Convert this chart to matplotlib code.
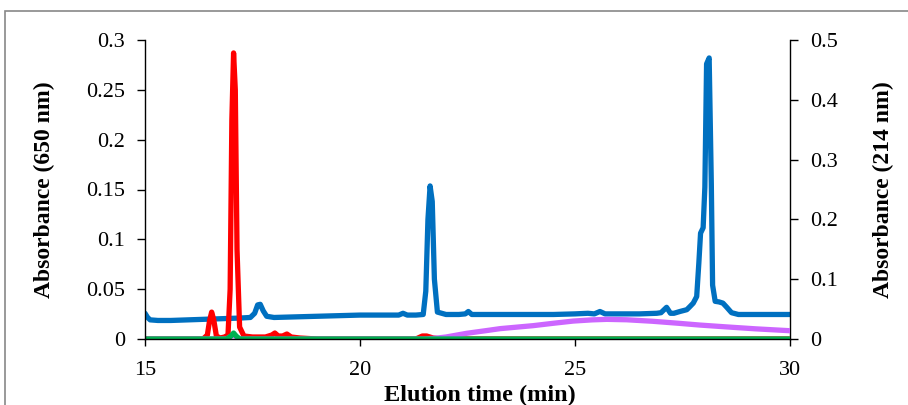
import matplotlib
matplotlib.use("Agg")
import matplotlib.pyplot as plt
from matplotlib.patches import Rectangle

# ---- data ----
# 214 nm trace (right axis)
blue_t = [15.0, 15.06, 15.12, 15.3, 15.6, 16.0, 16.4, 16.8, 17.2, 17.45, 17.55, 17.62, 17.68,
          17.75, 17.83, 18.0, 18.5, 19.0, 19.5, 20.0, 20.5, 20.9, 21.0, 21.1, 21.3, 21.47,
          21.53, 21.58, 21.63, 21.68, 21.73, 21.8, 22.0, 22.3, 22.45, 22.52, 22.6, 23.0,
          23.5, 24.0, 24.5, 25.0, 25.3, 25.45, 25.58, 25.7, 26.0, 26.5, 26.9, 27.0, 27.13,
          27.22, 27.3, 27.44, 27.6, 27.67, 27.75, 27.83, 27.88, 27.92, 27.98, 28.02, 28.06,
          28.12, 28.17, 28.2, 28.26, 28.35, 28.44, 28.53, 28.64, 28.8, 29.0, 29.5, 30.0]
blue_v = [0.043, 0.036, 0.032, 0.031, 0.031, 0.032, 0.033, 0.034, 0.035, 0.036, 0.043, 0.057,
          0.058, 0.047, 0.038, 0.036, 0.037, 0.038, 0.039, 0.040, 0.040, 0.040, 0.043, 0.040,
          0.040, 0.041, 0.08, 0.20, 0.256, 0.23, 0.10, 0.045, 0.041, 0.041, 0.042, 0.046, 0.041,
          0.041, 0.041, 0.041, 0.041, 0.042, 0.043, 0.042, 0.046, 0.042, 0.042, 0.042, 0.043,
          0.044, 0.053, 0.043, 0.043, 0.046, 0.049, 0.054, 0.060, 0.071, 0.127, 0.177, 0.186,
          0.254, 0.46, 0.470, 0.26, 0.09, 0.063, 0.062, 0.060, 0.053, 0.044, 0.041, 0.041,
          0.041, 0.041]

# 650 nm trace (left axis)
red_t = [15.0, 16.35, 16.45, 16.5, 16.55, 16.6, 16.66, 16.75, 16.85, 16.93, 16.98, 17.02,
         17.06, 17.1, 17.14, 17.2, 17.3, 17.5, 17.8, 17.95, 18.02, 18.1, 18.2, 18.3, 18.4,
         18.6, 19.0, 21.3, 21.45, 21.55, 21.7, 21.9, 30.0]
red_v = [0.0, 0.0, 0.004, 0.018, 0.027, 0.019, 0.003, 0.001, 0.002, 0.004, 0.05, 0.22,
         0.287, 0.25, 0.09, 0.012, 0.003, 0.002, 0.002, 0.004, 0.006, 0.003, 0.003, 0.005,
         0.002, 0.001, 0.0, 0.0, 0.003, 0.003, 0.001, 0.0, 0.0]

purple_t = [15.0, 16.9, 17.05, 17.2, 21.5, 21.8, 22.0, 22.48, 23.0, 23.26, 24.03, 24.5,
            24.96, 25.4, 25.74, 26.2, 26.8, 27.4, 27.9, 28.5, 29.2, 30.0]
purple_v = [0.0, 0.0, 0.004, 0.0, 0.0, 0.001, 0.002, 0.0057, 0.0088, 0.0104, 0.0134, 0.0158,
            0.018, 0.0192, 0.0197, 0.0193, 0.0178, 0.0158, 0.014, 0.0122, 0.0102, 0.0083]

green_t = [15.0, 16.9, 17.0, 17.06, 17.12, 17.2, 30.0]
green_v = [0.0, 0.0, 0.003, 0.006, 0.003, 0.0, 0.0]

left_ticks = [0, 0.05, 0.1, 0.15, 0.2, 0.25, 0.3]
left_labels = ["0", "0.05", "0.1", "0.15", "0.2", "0.25", "0.3"]
right_ticks = [0, 0.1, 0.2, 0.3, 0.4, 0.5]
right_labels = ["0", "0.1", "0.2", "0.3", "0.4", "0.5"]
x_ticks = [15, 20, 25, 30]

# ---- figure ----
plt.rcParams['font.family'] = ['Liberation Serif', 'DejaVu Serif']
W, H = 908, 405
fig = plt.figure(figsize=(W / 100, H / 100), dpi=100)
ax = fig.add_axes([145 / W, 1 - 339 / H, (790 - 145) / W, (339 - 40) / H])
ax2 = ax.twinx()

LW = 3.8
ax2.plot(blue_t, blue_v, color='#0070C0', lw=LW, solid_joinstyle='round', solid_capstyle='round')
ax.plot(red_t, red_v, color='#FF0000', lw=LW, solid_joinstyle='round')
ax.plot(purple_t, purple_v, color='#CC66FF', lw=LW, solid_joinstyle='round')
ax.plot(green_t, green_v, color='#00B050', lw=LW, solid_joinstyle='round')

ax.set_zorder(ax2.get_zorder() + 1)
ax.patch.set_visible(False)

ax.set_xlim(15, 30)
ax.set_ylim(0, 0.3)
ax2.set_ylim(0, 0.5)
ax.set_xticks(x_ticks)
ax.set_xticklabels([str(v) for v in x_ticks])
ax.set_yticks(left_ticks)
ax.set_yticklabels(left_labels)
ax2.set_yticks(right_ticks)
ax2.set_yticklabels(right_labels)

for a in (ax, ax2):
    a.spines['top'].set_visible(False)
    for s in ('left', 'right', 'bottom'):
        a.spines[s].set_linewidth(1.0)
        a.spines[s].set_color('black')
ax.spines['right'].set_visible(False)
ax2.spines['left'].set_visible(False)
ax2.spines['bottom'].set_visible(False)

ax.tick_params(axis='y', direction='out', length=5.5, width=1, labelsize=16, pad=9)
ax.tick_params(axis='x', direction='out', length=5, width=1, labelsize=16, pad=11)
ax2.tick_params(axis='y', direction='out', length=5.5, width=1, labelsize=16, pad=9)

ax.set_xlabel('Elution time (min)', fontsize=17.5, fontweight='bold', labelpad=3)
ax.xaxis.set_label_coords((480 - 145) / 645, -0.155)
ax.set_ylabel('Absorbance (650 nm)', fontsize=17, fontweight='bold', labelpad=22)
ax2.set_ylabel('Absorbance (214 nm)', fontsize=17, fontweight='bold', labelpad=25)

fig.patches.append(Rectangle((4.5 / W, -0.1), 1.2, 1.1 - 11.5 / H, transform=fig.transFigure,
                             fill=False, edgecolor='#888888', lw=1.2, clip_on=False))

fig.savefig('out.png', dpi=100)
